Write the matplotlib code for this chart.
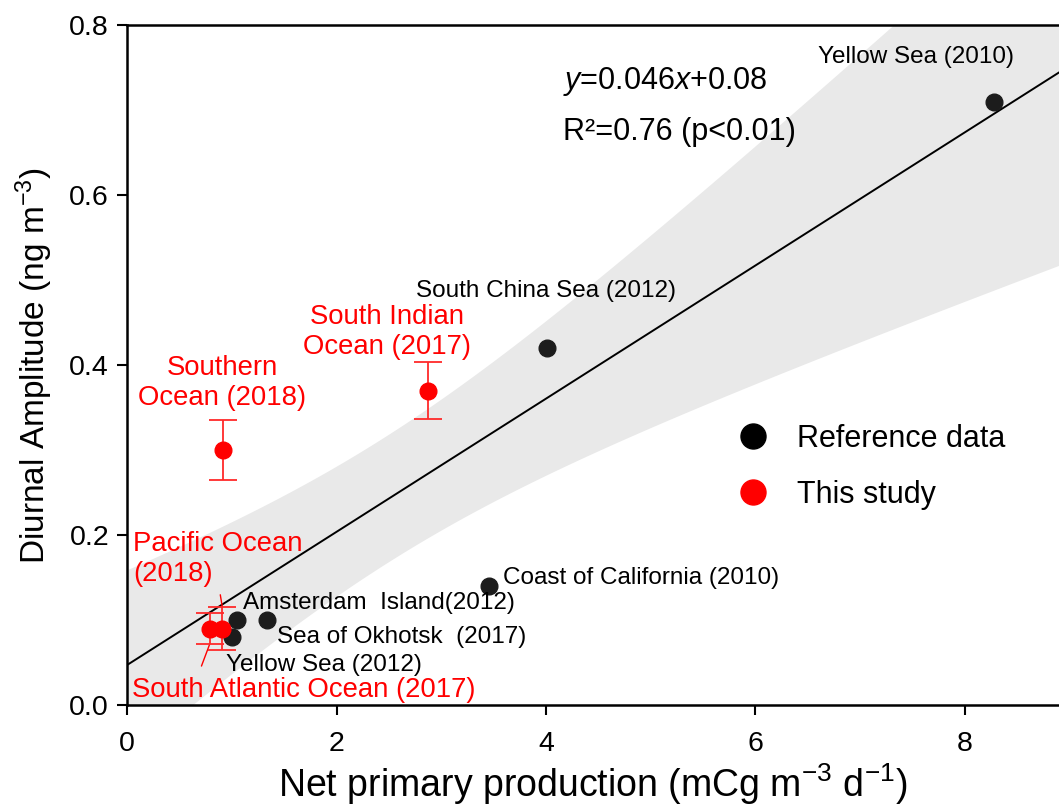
import numpy as np
import matplotlib
matplotlib.use("Agg")
import matplotlib.pyplot as plt
from matplotlib.lines import Line2D

plt.rcParams['font.family'] = ['Liberation Sans', 'DejaVu Sans']
plt.rcParams['mathtext.fontset'] = 'custom'
plt.rcParams['mathtext.rm'] = 'Liberation Sans'
plt.rcParams['mathtext.it'] = 'Liberation Sans:italic'

# reference data (black)
ref_names = ['Yellow Sea (2010)', 'South China Sea (2012)', 'Coast of California (2010)',
             'Amsterdam  Island(2012)', 'Sea of Okhotsk  (2017)', 'Yellow Sea (2012)']
ref_npp = [8.28, 4.01, 3.46, 1.05, 1.34, 1.00]
ref_amp = [0.71, 0.42, 0.14, 0.10, 0.10, 0.08]

# this study (red)
study_names = ['Southern\nOcean (2018)', 'South Indian\nOcean (2017)',
               'Pacific Ocean\n(2018)', 'South Atlantic Ocean (2017)']
study_npp = [0.92, 2.87, 0.91, 0.79]
study_amp = [0.30, 0.37, 0.09, 0.09]
study_err = [0.035, 0.033, 0.025, 0.018]

eq_text = '$\\mathit{y}$=0.046$\\mathit{x}$+0.08'
r2_text = 'R²=0.76 (p<0.01)'

# label offsets in points, relative to each point
ref_offsets = [(-127, 32), (-94, 41), (10, 6), (4, 12), (7, -12), (-4, -20)]
study_offsets = [(-1, 48), (-29, 42), (-64, 50), (-56, -44)]
study_ha = ['center', 'center', 'left', 'left']

XMAX = 8.9

fig = plt.figure(figsize=(10.59, 8.10), dpi=100)
ax = fig.add_axes([0.12, 0.1296, 0.88, 0.8395])

# linear fit over all points with 95% confidence band
x_all = np.array(ref_npp + study_npp)
y_all = np.array(ref_amp + study_amp)
n = len(x_all)
slope, icpt = np.polyfit(x_all, y_all, 1)
resid = y_all - (slope * x_all + icpt)
s = np.sqrt(np.sum(resid ** 2) / (n - 2))
sxx = np.sum((x_all - x_all.mean()) ** 2)
t_crit = 2.306  # t(0.975, df=8)
xf = np.linspace(0, XMAX, 200)
yf = slope * xf + icpt
half = t_crit * s * np.sqrt(1 / n + (xf - x_all.mean()) ** 2 / sxx)
ax.fill_between(xf, yf - half, yf + half, color='#e9e9e9', lw=0, zorder=1)
ax.plot(xf, yf, color='black', lw=1.4, zorder=2)

ax.plot(ref_npp, ref_amp, 'o', color='#1c1c1c', ms=12, zorder=4)
ax.errorbar(study_npp, study_amp, yerr=study_err, fmt='o', color='red', ms=12,
            ecolor='#ff2a2a', elinewidth=1.3, capsize=10, capthick=1.3, zorder=5)

for name, x, y, off in zip(ref_names, ref_npp, ref_amp, ref_offsets):
    ax.annotate(name, (x, y), xytext=off, textcoords='offset points',
                ha='left', va='center', fontsize=17.5, color='black', zorder=6)

for name, x, y, off, ha in zip(study_names, study_npp, study_amp, study_offsets, study_ha):
    ax.annotate(name, (x, y), xytext=off, textcoords='offset points',
                ha=ha, va='center', fontsize=19.8, color='red',
                linespacing=1.2, zorder=6)

# leader lines for the crowded red points
ax.annotate('', xy=(study_npp[2], study_amp[2] + study_err[2]), xytext=(-1.5, 9),
            textcoords='offset points',
            arrowprops=dict(arrowstyle='-', color='red', lw=1.0, shrinkA=0, shrinkB=0))
ax.annotate('', xy=(study_npp[3], study_amp[3] - study_err[3]), xytext=(-6, -16),
            textcoords='offset points',
            arrowprops=dict(arrowstyle='-', color='red', lw=1.0, shrinkA=0, shrinkB=0))

ax.text(0.468, 0.917, eq_text, transform=ax.transAxes, fontsize=22, va='center', ha='left')
ax.text(0.468, 0.842, r2_text, transform=ax.transAxes, fontsize=22, va='center', ha='left')

handles = [Line2D([], [], marker='o', ls='none', color='black', ms=18),
           Line2D([], [], marker='o', ls='none', color='red', ms=18)]
ax.legend(handles, ['Reference data', 'This study'], loc='upper left',
          bbox_to_anchor=(0.639, 0.436), frameon=False, fontsize=22,
          handlelength=1.0, handletextpad=0.95, labelspacing=0.85, borderpad=0)

ax.set_xlim(0, XMAX)
ax.set_ylim(0, 0.8)
ax.set_xticks([0, 2, 4, 6, 8])
ax.set_yticks([0.0, 0.2, 0.4, 0.6, 0.8])
ax.set_yticklabels(['0.0', '0.2', '0.4', '0.6', '0.8'])
ax.tick_params(labelsize=20.5, length=7, width=1.5, direction='out')
ax.tick_params(axis='x', pad=12)
ax.tick_params(axis='y', pad=6)
for side in ['left', 'bottom', 'top']:
    ax.spines[side].set_linewidth(1.8)
ax.spines['right'].set_visible(False)

ax.set_xlabel('Net primary production (mCg m$^{-3}$ d$^{-1}$)', fontsize=27)
ax.xaxis.set_label_coords(0.5, -0.117)
ax.xaxis.label.set_va('center')
ax.set_ylabel('Diurnal Amplitude (ng m$^{-3}$)', fontsize=24, labelpad=10)

fig.savefig('out.png', dpi=100)
